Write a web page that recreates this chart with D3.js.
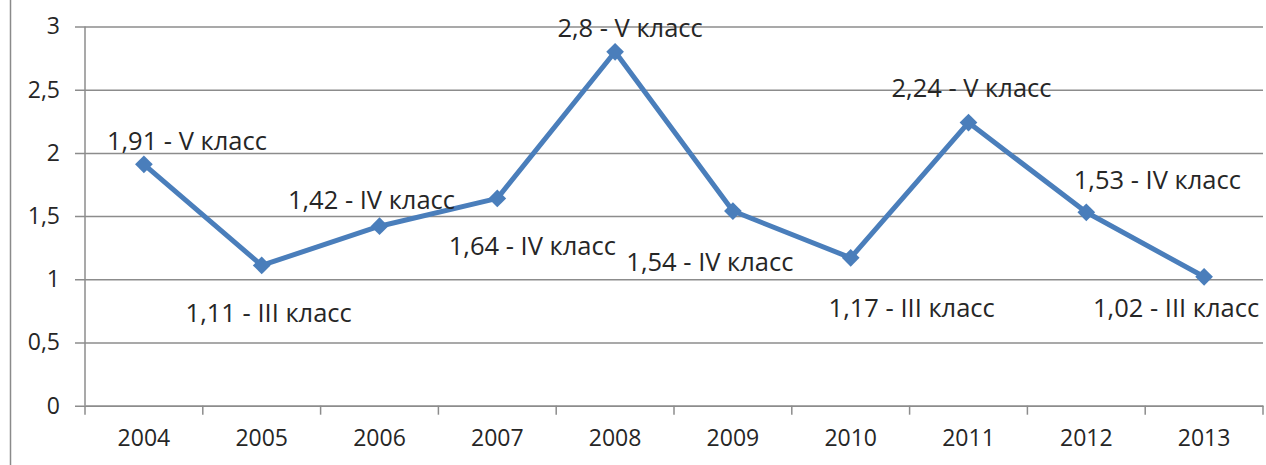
<!DOCTYPE html>
<html>
<head>
<meta charset="utf-8">
<script src="https://cdn.jsdelivr.net/npm/d3@7"></script>
<style>
  html, body { margin: 0; padding: 0; background: #fff; }
  svg { display: block; }
  text { font-family: "Open Sans", "Noto Sans", sans-serif; fill: #262626; }
</style>
</head>
<body>
<svg id="chart" width="1266" height="465"></svg>
<script>
// ---- data ----
const years = ["2004","2005","2006","2007","2008","2009","2010","2011","2012","2013"];
const values = [1.91, 1.11, 1.42, 1.64, 2.8, 1.54, 1.17, 2.24, 1.53, 1.02];
const classes = ["V","III","IV","IV","V","IV","III","V","IV","III"];
const yTicks = [0, 0.5, 1, 1.5, 2, 2.5, 3];

// ---- layout (label offsets from their points, in px) ----
const labelDx = [43, 7, -8, 35, 15, -23, 61, 3, 71, -28];
const labelDy = [-23, 47, -26, 47, -24, 51, 50, -35, -32, 31];

(function () {
const svg = d3.select("#chart");
const mLeft = 85, mRight = 1263, mTop = 26.5, mBottom = 405.7;

const x = d3.scaleBand().domain(years).range([mLeft, mRight]);
const y = d3.scaleLinear().domain([0, 3]).range([mBottom, mTop]);
const fmt = v => String(v).replace(".", ",");

// outer border (left edge)
svg.append("line").attr("x1", 10.5).attr("x2", 10.5).attr("y1", 0).attr("y2", 465)
  .attr("stroke", "#8a8a8a").attr("stroke-width", 1.5);

// gridlines + y ticks
const yAxis = d3.axisLeft(y).tickValues(yTicks).tickSize(-(mRight - mLeft)).tickSizeOuter(0)
  .tickFormat(fmt).tickPadding(15);
const gy = svg.append("g").attr("transform", `translate(${mLeft},0)`).call(yAxis);
gy.select(".domain").remove();
gy.selectAll(".tick line").attr("stroke", "#8c8c8c").attr("stroke-width", 1.5)
  .attr("x1", -10);
gy.selectAll(".tick text").attr("x", -25).style("font-size", "23px").attr("fill", "#262626");

// y axis line
svg.append("line").attr("x1", mLeft).attr("x2", mLeft).attr("y1", mTop).attr("y2", mBottom)
  .attr("stroke", "#8c8c8c").attr("stroke-width", 1.5);

// x axis
const xAxis = d3.axisBottom(x).tickSize(0).tickPadding(24);
const gx = svg.append("g").attr("transform", `translate(0,${mBottom})`).call(xAxis);
gx.select(".domain").attr("stroke", "#8c8c8c").attr("stroke-width", 1.5);
gx.selectAll(".tick text").style("font-size", "23px").attr("fill", "#262626");
// category boundary ticks
const bounds = years.map(d => x(d)).concat([mRight]);
svg.append("g").selectAll("line").data(bounds).join("line")
  .attr("x1", d => d).attr("x2", d => d).attr("y1", mBottom).attr("y2", mBottom + 9)
  .attr("stroke", "#8c8c8c").attr("stroke-width", 1.5);

const cx = (d, i) => x(years[i]) + x.bandwidth() / 2;

// line
const line = d3.line().x((d, i) => cx(d, i)).y(d => y(d));
svg.append("path").datum(values).attr("d", line)
  .attr("fill", "none").attr("stroke", "#4a7ebb").attr("stroke-width", 5)
  .attr("stroke-linejoin", "round");

// markers
svg.append("g").selectAll("path").data(values).join("path")
  .attr("d", d3.symbol().type(d3.symbolDiamond2).size(200))
  .attr("transform", (d, i) => `translate(${cx(d, i)},${y(d)})`)
  .attr("fill", "#4a7ebb");

// labels
svg.append("g").selectAll("text").data(values).join("text")
  .attr("x", (d, i) => cx(d, i) + labelDx[i])
  .attr("y", (d, i) => y(d) + labelDy[i])
  .attr("dy", "0.36em")
  .attr("text-anchor", "middle")
  .style("font-size", "25.5px")
  .text((d, i) => `${fmt(d)} - ${classes[i]} класс`);
})();
</script>
</body>
</html>
